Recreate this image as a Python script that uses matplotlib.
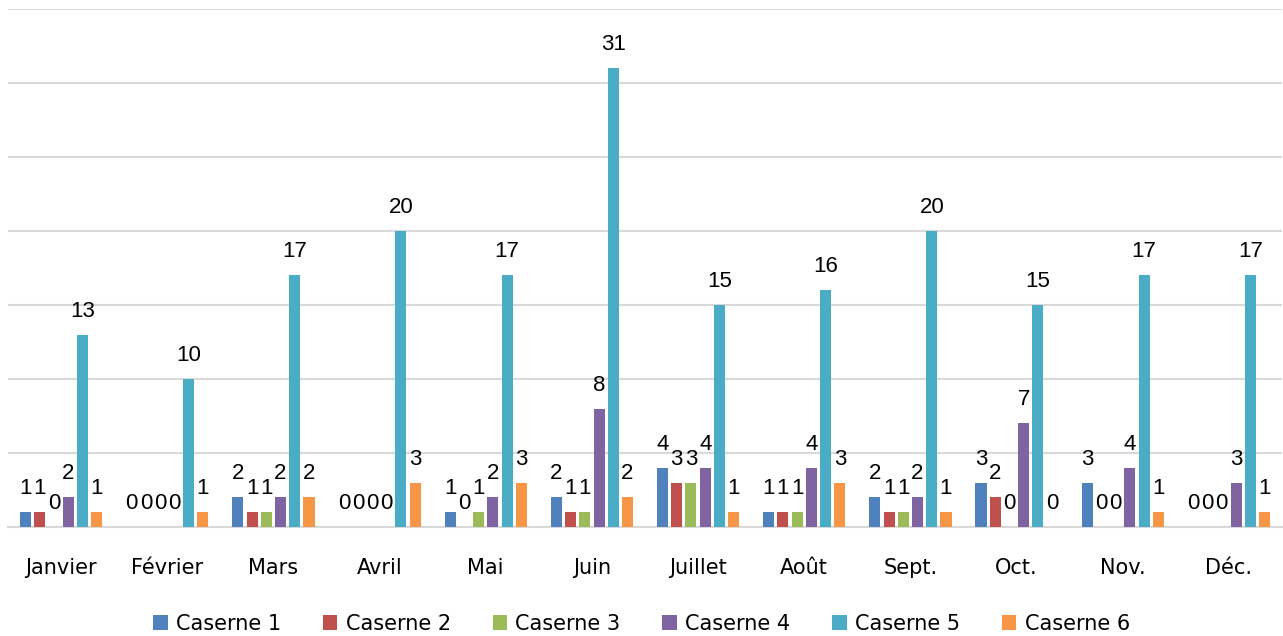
import numpy as np
import matplotlib.pyplot as plt

# Monthly counts per fire station
mois = ['Janvier', 'Février', 'Mars', 'Avril', 'Mai', 'Juin',
        'Juillet', 'Août', 'Sept.', 'Oct.', 'Nov.', 'Déc.']
series_names = ['Caserne 1', 'Caserne 2', 'Caserne 3', 'Caserne 4', 'Caserne 5', 'Caserne 6']
caserne_1 = [1, 0, 2, 0, 1, 2, 4, 1, 2, 3, 3, 0]
caserne_2 = [1, 0, 1, 0, 0, 1, 3, 1, 1, 2, 0, 0]
caserne_3 = [0, 0, 1, 0, 1, 1, 3, 1, 1, 0, 0, 0]
caserne_4 = [2, 0, 2, 0, 2, 8, 4, 4, 2, 7, 4, 3]
caserne_5 = [13, 10, 17, 20, 17, 31, 15, 16, 20, 15, 17, 17]
caserne_6 = [1, 1, 2, 3, 3, 2, 1, 3, 1, 0, 1, 1]

colors = ['#4F81BD', '#C0504D', '#9BBB59', '#8064A2', '#4BACC6', '#F79646']

series = [caserne_1, caserne_2, caserne_3, caserne_4, caserne_5, caserne_6]

fig = plt.figure(figsize=(12.83, 6.36), dpi=100)
ax = fig.add_axes([8 / 1283, 1 - 527 / 636, 1274 / 1283, 518 / 636])

x = np.arange(len(mois))
step = 0.134
width = 0.104

for j, (name, vals, col) in enumerate(zip(series_names, series, colors)):
    pos = x + (j - 2.5) * step
    ax.bar(pos, vals, width=width, color=col, label=name, zorder=3)
    for p, v in zip(pos, vals):
        ax.annotate(str(v), (p, v), xytext=(0, 13), textcoords='offset points',
                    ha='center', va='baseline', fontsize=16, family='Liberation Sans',
                    color='#000000')

ax.set_xlim(-0.5, len(mois) - 0.5)
ax.set_ylim(0, 35)
ax.set_yticks(np.arange(0, 36, 5))
ax.set_yticklabels([])
ax.tick_params(axis='y', length=0)
ax.tick_params(axis='x', length=0, pad=22)
ax.set_xticks(x)
ax.set_xticklabels(mois, fontsize=15, family='DejaVu Sans')
ax.grid(axis='y', color='#d9d9d9', linewidth=1.5, zorder=0)
for s in ['top', 'right', 'left']:
    ax.spines[s].set_visible(False)
ax.spines['bottom'].set_color('#d9d9d9')
ax.spines['bottom'].set_linewidth(1.5)

leg = fig.legend(loc='lower center', bbox_to_anchor=(0.5, -0.026), ncol=6, frameon=False,
                 prop={'family': 'DejaVu Sans', 'size': 15}, handlelength=0.7, handleheight=0.7,
                 handletextpad=0.4, columnspacing=2.0)

fig.savefig('out.png', dpi=100)
